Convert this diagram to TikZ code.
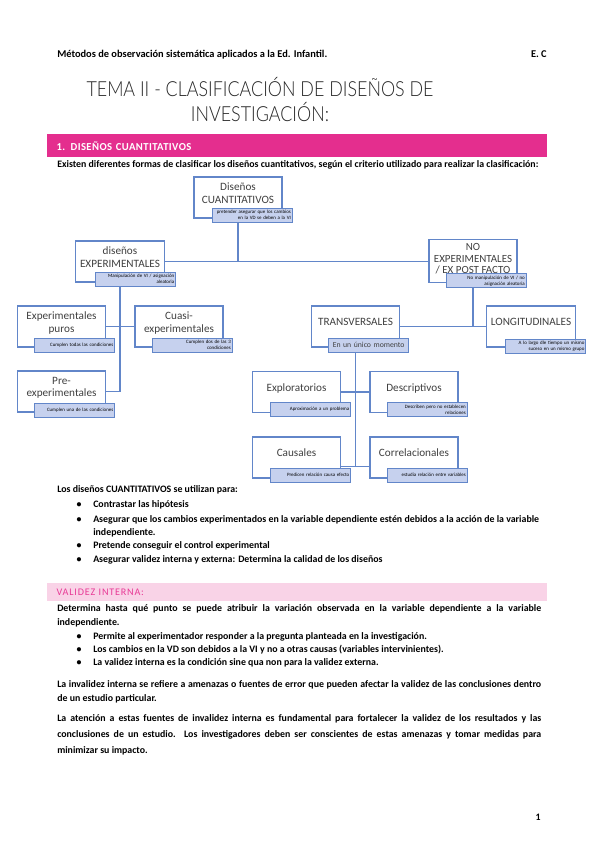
\documentclass[tikz,border=0pt]{standalone}
\usepackage{fontspec}
\setmainfont{Carlito}
\newfontfamily\titlefont[FakeStretch=0.86]{Lato Light}
\usetikzlibrary{positioning}

\definecolor{boxline}{RGB}{98,134,201}
\definecolor{tagfill}{RGB}{198,209,238}
\definecolor{pinkbar}{RGB}{228,46,142}
\definecolor{pinklight}{RGB}{249,211,231}
\definecolor{pinktext}{RGB}{232,58,150}
\definecolor{boxtext}{RGB}{64,64,64}

\newcommand{\bodyfont}{\fontsize{7.4}{9.75}\selectfont\bfseries}
\newcommand{\tagfont}{\fontsize{3.7}{4.3}\selectfont}

\begin{document}
\begin{tikzpicture}[x=0.75pt, y=-0.75pt,
  box/.style={rectangle, draw=boxline, line width=1pt, fill=white, align=center, minimum width=66pt, minimum height=30.75pt, text depth=7pt, text=boxtext, font=\fontsize{8.4}{9.6}\selectfont},
  tag/.style={rectangle, draw=boxline, line width=0.8pt, fill=tagfill, align=right, text width=58pt, inner sep=1pt, minimum height=10.5pt, font=\tagfont, anchor=south east},
  link/.style={draw=boxline, line width=0.9pt},
  txt/.style={anchor=base west, inner sep=0pt, font=\bodyfont},
  dot/.style={anchor=base, inner sep=0pt, font=\bodyfont}]
\useasboundingbox (0,0) rectangle (599,848);

% header and title
\node[txt, font=\fontsize{7.8}{8}\selectfont\bfseries] (head) at (57,58) {Métodos de observación sistemática aplicados a la Ed. Infantil.};
\node[txt, anchor=base east, font=\fontsize{7.8}{8}\selectfont\bfseries] (initials) at (547,58) {E. C};
\node[align=center, text=black!85, font=\titlefont\fontsize{15.6}{18.75}\selectfont] (title) at (260,99.5) {TEMA II - CLASIFICACIÓN DE DISEÑOS DE\\INVESTIGACIÓN:};

% section bar
\node[anchor=north west, fill=pinkbar, text=white, text width=361pt, inner xsep=7pt, inner ysep=0pt, minimum height=17.25pt, font=\fontsize{8}{9}\selectfont\bfseries\addfontfeatures{LetterSpace=4}] (seccuant) at (47,134) {1. DISEÑOS CUANTITATIVOS};
\node[txt] (intro) at (57,168) {Existen diferentes formas de clasificar los diseños cuantitativos, según el criterio utilizado para realizar la clasificación:};

% diagram boxes
\node[box] (cuant) at (238,197.5) {Diseños\\CUANTITATIVOS};
\node[box] (exper) at (120,261.5) {diseños\\EXPERIMENTALES};
\node[box, text depth=3.5pt, font=\fontsize{8.2}{8.6}\selectfont] (noexper) at (473,261) {NO\\EXPERIMENTALES\\/ EX POST FACTO};
\node[box] (puros) at (61.5,326.5) {Experimentales\\puros};
\node[box] (cuasi) at (179,326.5) {Cuasi-\\experimentales};
\node[box] (preexp) at (61.5,391.5) {Pre-\\experimentales};
\node[box] (transv) at (355.5,326.5) {TRANSVERSALES};
\node[box] (longit) at (531,326.5) {LONGITUDINALES};
\node[box] (explor) at (296.5,392) {Exploratorios};
\node[box] (descr) at (414,392) {Descriptivos};
\node[box] (causal) at (296.5,457.5) {Causales};
\node[box] (correl) at (414,457.5) {Correlacionales};

% connectors
\draw[link] (cuant.south) -- (cuant.south |- exper.east);
\draw[link] (exper.east) -- (exper.east -| noexper.west);
\draw[link] (exper.south) |- (preexp.east);
\draw[link] (puros.east) -- (cuasi.west);
\draw[link] (noexper.south) -- (noexper.south |- longit.west);
\draw[link] (transv.east) -- (longit.west);
\draw[link] (transv.south) -- ([yshift=-7pt]transv.south |- causal.east);
\draw[link] (explor.east) -- (descr.west);
\draw[link] ([yshift=-7pt]causal.east) -- ([yshift=-7pt]correl.west);

% small tags
\node[tag] (tcuant) at ([shift={(10,4)}]cuant.south east) {pretender asegurar que los cambios\\en la VD se deben a la VI};
\node[tag] (texper) at ([shift={(11,4)}]exper.south east) {Manipulación de VI / asignación\\aleatoria};
\node[tag] (tnoexper) at ([shift={(9,5)}]noexper.south east) {No manipulación de VI / no\\asignación aleatoria};
\node[tag] (tpuros) at ([shift={(9,5)}]puros.south east) {Cumplen todas las condiciones};
\node[tag] (tcuasi) at ([shift={(9,5)}]cuasi.south east) {Cumplen dos de las 3\\condiciones};
\node[tag] (tpreexp) at ([shift={(9,5)}]preexp.south east) {Cumplen una de las condiciones};
\node[tag, align=center, text=boxtext, font=\fontsize{5.8}{6}\selectfont] (ttransv) at ([shift={(9,5)}]transv.south east) {En un único momento};
\node[tag] (tlongit) at ([shift={(10,6)}]longit.south east) {A lo largo dle tiempo un mismo\\suceso en un mismo grupo};
\node[tag] (texplor) at ([shift={(10,4)}]explor.south east) {Aproximación a un problema};
\node[tag] (tdescr) at ([shift={(9,4)}]descr.south east) {Describen pero no establecen\\relaciones};
\node[tag] (tcausal) at ([shift={(10,4)}]causal.south east) {Predicen relación causa efecto};
\node[tag] (tcorrel) at ([shift={(9,4)}]correl.south east) {estudia relación entre variables};

% uses list
\node[txt] (uso) at (57,492) {Los diseños CUANTITATIVOS se utilizan para:};
\node[dot] (d1) at (79,507) {•};
\node[txt] (u1) at (93,507) {Contrastar las hipótesis};
\node[dot] (d2) at (79,522) {•};
\node[txt] (u2) at (93,522) {Asegurar que los cambios experimentados en la variable dependiente estén debidos a la acción de la variable};
\node[txt] (u2b) at (93,535) {independiente.};
\node[dot] (d3) at (79,548) {•};
\node[txt] (u3) at (93,548) {Pretende conseguir el control experimental};
\node[dot] (d4) at (79,562) {•};
\node[txt] (u4) at (93,562) {Asegurar validez interna y externa: Determina la calidad de los diseños};

% validez interna
\node[anchor=north west, fill=pinklight, text=pinktext, text width=361pt, inner xsep=7pt, inner ysep=0pt, minimum height=13.5pt, font=\fontsize{7.6}{8}\selectfont\addfontfeatures{LetterSpace=8}] (secvalidez) at (47,583) {VALIDEZ INTERNA:};
\node[txt] (v1) at (57,611.5) {\makebox[363pt][s]{Determina hasta qué punto se puede atribuir la variación observada en la variable dependiente a la variable}};
\node[txt] (v1b) at (57,625) {independiente.};
\node[dot] (e1) at (79,639) {•};
\node[txt] (w1) at (93,639) {Permite al experimentador responder a la pregunta planteada en la investigación.};
\node[dot] (e2) at (79,652) {•};
\node[txt] (w2) at (93,652) {Los cambios en la VD son debidos a la VI y no a otras causas (variables intervinientes).};
\node[dot] (e3) at (79,665) {•};
\node[txt] (w3) at (93,665) {La validez interna es la condición sine qua non para la validez externa.};

\node[txt] (p1) at (57,687) {\makebox[363pt][s]{La invalidez interna se refiere a amenazas o fuentes de error que pueden afectar la validez de las conclusiones dentro}};
\node[txt] (p1b) at (57,701) {de un estudio particular.};
\node[txt] (p2) at (57,721) {\makebox[363pt][s]{La atención a estas fuentes de invalidez interna es fundamental para fortalecer la validez de los resultados y las}};
\node[txt] (p2b) at (57,737) {\makebox[363pt][s]{conclusiones de un estudio. Los investigadores deben ser conscientes de estas amenazas y tomar medidas para}};
\node[txt] (p2c) at (57,753) {minimizar su impacto.};

\node[txt, anchor=base east] (pagenum) at (541,820) {1};
\end{tikzpicture}
\end{document}
